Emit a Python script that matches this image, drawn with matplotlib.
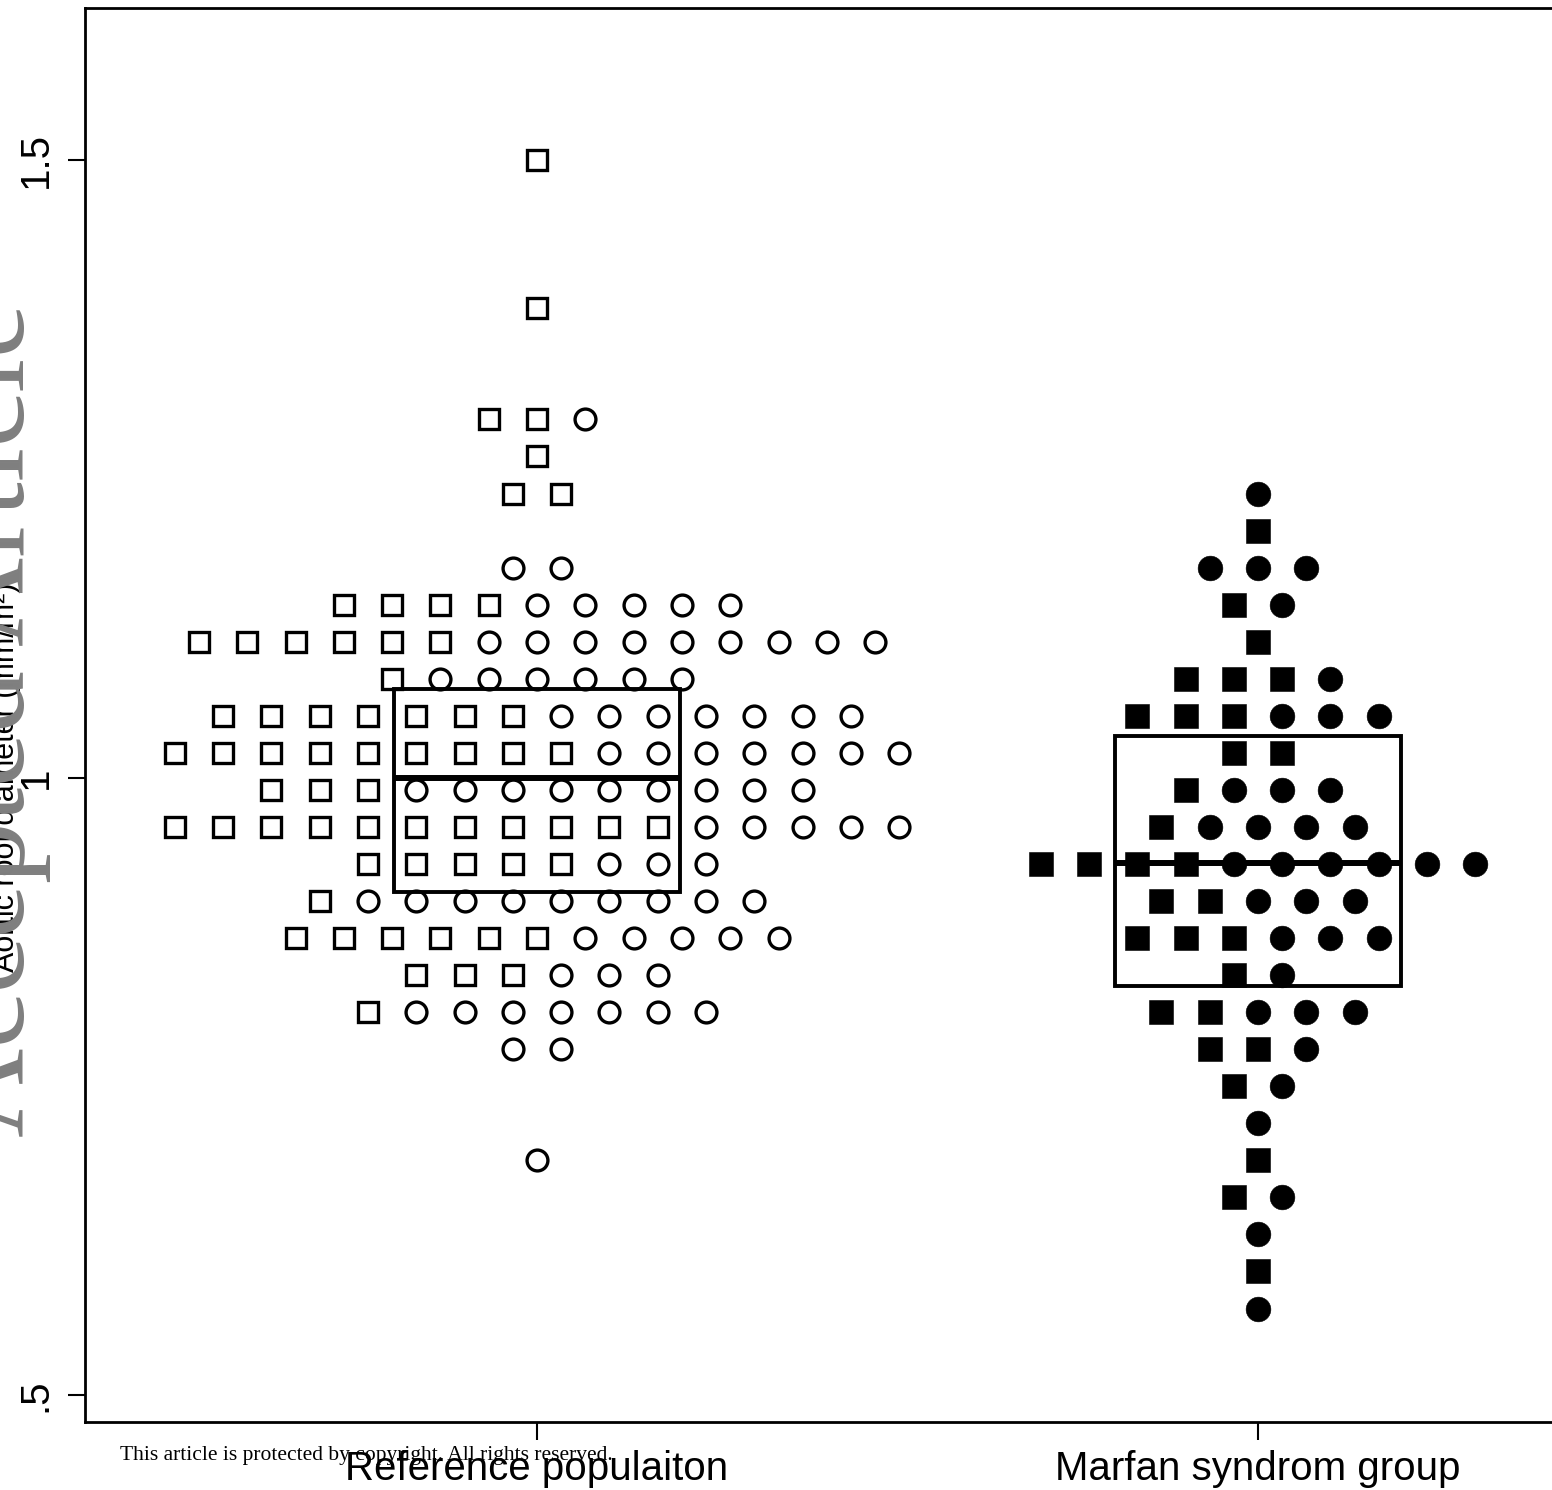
import numpy as np
import matplotlib
matplotlib.use("Agg")
import matplotlib.pyplot as plt
from matplotlib.patches import Rectangle

# ---------------- data ----------------
groups = ["Reference populaiton", "Marfan syndrom group"]
group_pos = [1, 2]

# Reference population: row value, number of squares, number of circles
ref_y = [1.50, 1.38, 1.29, 1.26, 1.23, 1.17, 1.14, 1.11, 1.08, 1.05,
         1.02, 0.99, 0.96, 0.93, 0.90, 0.87, 0.84, 0.81, 0.78, 0.69]
ref_sq = [1, 1, 2, 1, 2, 0, 4, 6, 1, 7, 9, 3, 11, 5, 1, 6, 3, 1, 0, 0]
ref_ci = [0, 0, 1, 0, 0, 2, 5, 9, 6, 7, 7, 9, 5, 3, 9, 5, 3, 7, 2, 1]

# Marfan syndrome group
mfs_y = [1.23, 1.20, 1.17, 1.14, 1.11, 1.08, 1.05, 1.02, 0.99, 0.96, 0.93, 0.90,
         0.87, 0.84, 0.81, 0.78, 0.75, 0.72, 0.69, 0.66, 0.63, 0.60, 0.57]
mfs_sq = [0, 1, 0, 1, 1, 3, 3, 2, 1, 1, 4, 2, 3, 1, 2, 2, 1, 0, 1, 1, 0, 1, 0]
mfs_ci = [1, 0, 3, 1, 0, 1, 3, 0, 3, 4, 6, 3, 3, 1, 3, 1, 1, 1, 0, 1, 1, 0, 1]

box_q1 = [0.907, 0.831]
box_med = [1.000, 0.931]
box_q3 = [1.072, 1.034]

ytick_vals = [0.5, 1.0, 1.5]
ytick_labels = [".5", "1", "1.5"]

# ---------------- figure ----------------
W, H = 1552, 1490
fig = plt.figure(figsize=(W / 100, H / 100), dpi=100)
ax_left, ax_top, ax_bottom = 85, 8, 1422
ax = fig.add_axes([ax_left / W, 1 - ax_bottom / H, 1 - ax_left / W, (ax_bottom - ax_top) / H])

px_per_unit_x = 721.0
c1_px = 537.0
xmin = 1 - (c1_px - ax_left) / px_per_unit_x
xmax = xmin + (W - ax_left) / px_per_unit_x
ax.set_xlim(xmin, xmax)
px_per_unit_y = 1234.0
ymin = 0.5 - (ax_bottom - 1395) / px_per_unit_y
ymax = 1.5 + (160 - ax_top) / px_per_unit_y
ax.set_ylim(ymin, ymax)

spacing = 48.3 / px_per_unit_x


def draw_group(xc, ys, nsq, nci, filled):
    for y, s, c in zip(ys, nsq, nci):
        n = s + c
        offs = (np.arange(n) - (n - 1) / 2.0) * spacing
        xs_sq = xc + offs[:s]
        xs_ci = xc + offs[s:]
        if filled:
            ax.plot(xs_sq, [y] * s, ls="none", marker="s", ms=17.2, mfc="black",
                    mec="black", mew=0.4, zorder=3)
            ax.plot(xs_ci, [y] * c, ls="none", marker="o", ms=17.8, mfc="black",
                    mec="black", mew=0.4, zorder=3)
        else:
            ax.plot(xs_sq, [y] * s, ls="none", marker="s", ms=14.6, mfc="white",
                    mec="black", mew=2.4, zorder=3)
            ax.plot(xs_ci, [y] * c, ls="none", marker="o", ms=15.0, mfc="white",
                    mec="black", mew=2.4, zorder=3)


draw_group(group_pos[0], ref_y, ref_sq, ref_ci, filled=False)
draw_group(group_pos[1], mfs_y, mfs_sq, mfs_ci, filled=True)

half_w = 143.0 / px_per_unit_x
for xc, q1, med, q3 in zip(group_pos, box_q1, box_med, box_q3):
    ax.add_patch(Rectangle((xc - half_w, q1), 2 * half_w, q3 - q1, fill=False,
                           ec="black", lw=2.8, zorder=4))
    ax.plot([xc - half_w, xc + half_w], [med, med], color="black", lw=4.3,
            solid_capstyle="butt", zorder=4)

# axes styling
for side in ["left", "top", "bottom"]:
    ax.spines[side].set_linewidth(2.0)
    ax.spines[side].set_color("black")
ax.spines["right"].set_visible(False)

ax.set_yticks(ytick_vals)
ax.set_yticklabels(ytick_labels, rotation=90, va="center",
                   fontsize=29, family="Liberation Sans")
ax.set_xticks(group_pos)
ax.set_xticklabels(groups, fontsize=29, family="Liberation Sans")
ax.tick_params(axis="y", length=12, width=1.5, pad=10, direction="out")
ax.tick_params(axis="x", length=13, width=1.5, pad=7, direction="out")

# partially hidden y label
fig.text(6 / W, 1 - 777 / H, "Aortic root diameter (mm/m\u00b2)", rotation=90,
         rotation_mode="anchor", ha="center", va="center", fontsize=22,
         family="Liberation Sans", color="black")

# watermark
fig.text(24 / W, 1 - 720 / H, "Accepted Article", rotation=90, rotation_mode="anchor",
         ha="center", va="baseline", fontsize=89, family="Liberation Serif",
         color="#7f7f7f", zorder=10)

# copyright line
fig.text(120 / W, 1 - 1460 / H, "This article is protected by copyright. All rights reserved.",
         ha="left", va="baseline", fontsize=15.5, family="Liberation Serif",
         color="black", zorder=10)

fig.savefig("out.png", dpi=100)
